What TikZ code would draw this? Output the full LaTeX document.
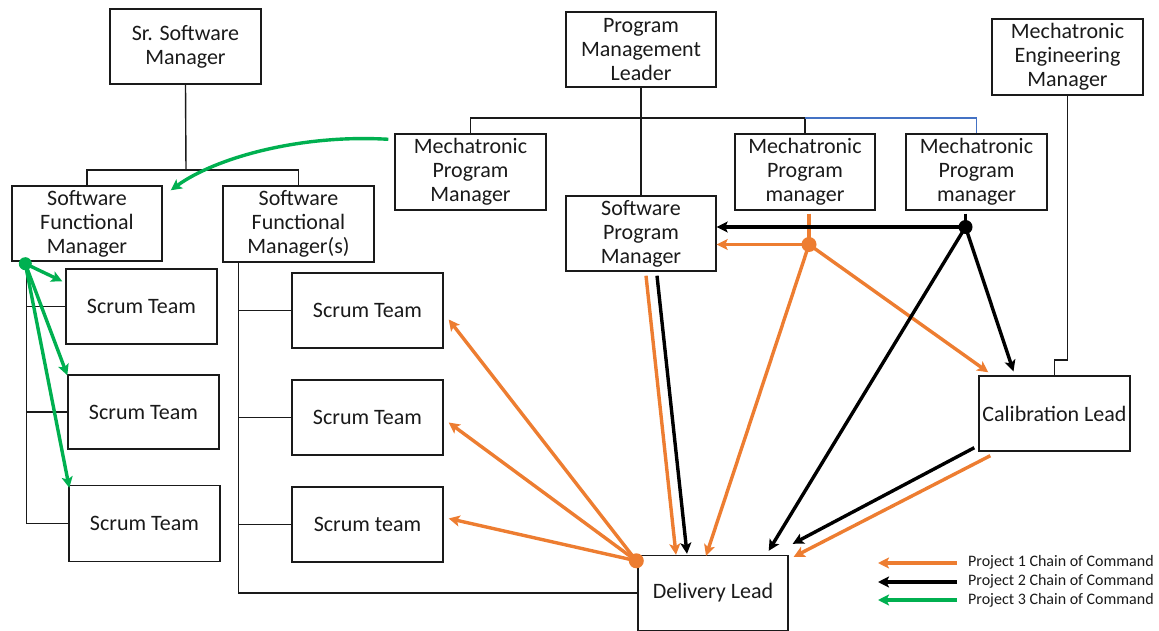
\documentclass[tikz,border=0pt]{standalone}
\usepackage{fontspec}
\setmainfont{Carlito}
\usetikzlibrary{arrows.meta,calc}
\definecolor{pone}{HTML}{ED7D31}
\definecolor{pthree}{HTML}{00B050}
\definecolor{linkblue}{HTML}{4472C4}
\definecolor{ink}{HTML}{1A1A1A}
\begin{document}
\begin{tikzpicture}[x=1pt,y=-1pt,
  box/.style={draw=ink, line width=1.4pt, inner sep=0pt, align=center, text=ink,
    font=\fontsize{22}{24}\selectfont, minimum width=151pt, minimum height=75pt},
  tree/.style={line width=1.4pt, ink},
  chain/.style={line width=3.4pt, -{Stealth[length=11pt,width=11pt,inset=2.5pt]}},
  pa/.style={chain, pone},
  pb/.style={chain, black},
  pc/.style={chain, pthree},
  pal/.style={line width=3.4pt, pone},
  pbl/.style={line width=3.4pt, black},
  legend/.style={anchor=west, inner sep=0pt, text=ink, font=\fontsize{16}{19}\selectfont}
]
\useasboundingbox (0,0) rectangle (1159,631);

% ---- boxes ----
\node[box] (sr)   at (185.5,46.5) {Sr. Software\\Manager};
\node[box, minimum width=150pt] (sfm) at (87,223.5) {Software\\Functional\\Manager};
\node[box, minimum height=76pt] (sfms) at (298.5,224) {Software\\Functional\\Manager(s)};
\node[box, minimum width=150pt] (pml) at (641,49.5) {Program\\Management\\Leader};
\node[box, minimum height=76pt] (mpm1) at (470.5,172) {Mechatronic\\Program\\Manager};
\node[box, minimum width=150pt] (spm) at (641,233.5) {Software\\Program\\Manager};
\node[box, minimum width=140pt, minimum height=76pt] (mpm2) at (805,172) {Mechatronic\\Program\\manager};
\node[box, minimum width=141pt, minimum height=76pt] (mpm3) at (976.5,172) {Mechatronic\\Program\\manager};
\node[box, minimum height=76pt] (mem) at (1067.5,57) {Mechatronic\\Engineering\\Manager};
\node[box] (cal) at (1054.5,413.5) {Calibration Lead};
\node[box] (st1) at (141.5,306.5) {Scrum Team};
\node[box, minimum height=74pt] (st2) at (143.5,412) {Scrum Team};
\node[box, minimum height=76pt] (st3) at (144.5,523.5) {Scrum Team};
\node[box] (mt1) at (367.5,310.5) {Scrum Team};
\node[box] (mt2) at (367.5,417.5) {Scrum Team};
\node[box] (mt3) at (367.5,524.5) {Scrum team};
\node[box, minimum width=150pt] (dl) at (713,593) {Delivery Lead};

% ---- reporting lines ----
\coordinate (srbus) at (186,170);
\draw[tree] (sr.south) -- (srbus);
\draw[tree] (sfm.north) |- (srbus) -| (sfms.north);

\coordinate (pmlbus) at (641,118);
\draw[tree] (pml.south) -- (spm.north);
\draw[tree] (mpm1.north) |- (pmlbus) -| (mpm2.north);
\draw[line width=1.4pt, linkblue] (mpm2.north |- pmlbus) -| (mpm3.north);

\coordinate (memk) at (1067.5,360);
\draw[tree] (mem.south) -- (memk) -| (cal.north);

\coordinate (sfmleg) at ($(sfm.south west)+(15,0)$);
\draw[tree] (sfmleg) |- (st3.west);
\draw[tree] (sfmleg |- st1.west) -- (st1.west);
\draw[tree] (sfmleg |- st2.west) -- (st2.west);

\coordinate (sfmsleg) at ($(sfms.south west)+(16,0)$);
\draw[tree] (sfmsleg) |- (dl.west);
\draw[tree] (sfmsleg |- mt1.west) -- (mt1.west);
\draw[tree] (sfmsleg |- mt2.west) -- (mt2.west);
\draw[tree] (sfmsleg |- mt3.west) -- (mt3.west);

% ---- project 3 chain ----
\coordinate (gstart) at ($(mpm1.north west)+(-6,6)$);
\draw[pc] (gstart) .. controls (300,134) and (215,158) .. ($(sfm.north east)+(8,5)$);
\coordinate (gdot) at ($(sfm.south west)+(14,2)$);
\draw[pc] (gdot) -- ($(st1.north west)+(-3,13)$);
\draw[pc] (gdot) -- ($(st2.north west)+(0,1)$);
\draw[pc] (gdot) -- ($(st3.north west)+(1,3)$);
\fill[pthree] (gdot) circle (6.5pt);

% ---- project 1 chain ----
\coordinate (odot) at (809,244.5);
\draw[pal] ($(mpm2.south)+(4,3)$) -- (odot);
\draw[pa] (odot) -- (spm.east |- odot);
\draw[pa] (odot) -- ($(dl.north)+(-7,1)$);
\draw[pa] (odot) -- ($(cal.north west)+(10,-3)$);
\draw[pa] ($(spm.south)+(5,4)$) -- ($(dl.north)+(-37,0)$);
\draw[pa] ($(cal.south west)+(12,4)$) -- ($(dl.north east)+(5,2)$);
\coordinate (odl) at ($(dl.north west)+(-1,6)$);
\draw[pa] (odl) -- ($(mt1.east)+(5,9)$);
\draw[pa] (odl) -- ($(mt2.east)+(5,5)$);
\draw[pa] (odl) -- ($(mt3.east)+(5,-6)$);
\fill[pone] (odot) circle (7.5pt);
\fill[pone] (odl) circle (7.5pt);

% ---- project 2 chain ----
\coordinate (bdot) at (965.5,227);
\draw[pbl] ($(mpm3.south)+(-11,3)$) -- (bdot);
\draw[pb] (bdot) -- (spm.east |- bdot);
\draw[pb] (bdot) -- ($(cal.north)+(-41,-4)$);
\draw[pb] (bdot) -- ($(dl.north east)+(-20,-4)$);
\draw[pb] ($(spm.south)+(16,4)$) -- ($(dl.north)+(-26,-1)$);
\draw[pb] ($(cal.south west)+(-4,-4)$) -- ($(dl.north east)+(4,-11)$);
\fill[black] (bdot) circle (7pt);

% ---- legend ----
\node[legend] (l1) at (968,562) {Project 1 Chain of Command};
\node[legend] (l2) at (968,581) {Project 2 Chain of Command};
\node[legend] (l3) at (968,600) {Project 3 Chain of Command};
\draw[pa] ($(l1.west)+(-11,1)$) -- ++(-79,0);
\draw[pb] ($(l2.west)+(-11,1)$) -- ++(-79,0);
\draw[pc] ($(l3.west)+(-11,0)$) -- ++(-79,0);
\end{tikzpicture}
\end{document}
